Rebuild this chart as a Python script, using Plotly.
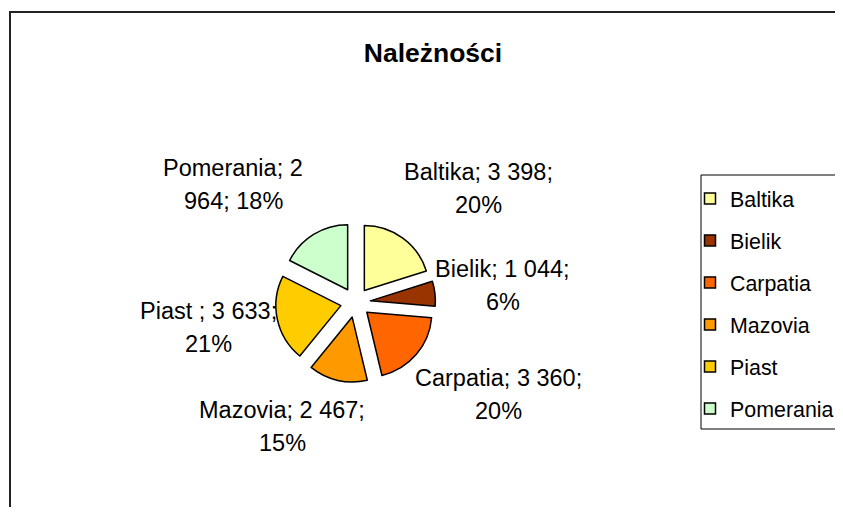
import textwrap
import plotly.graph_objects as go

# The page body has an 8px margin; the figure is sized to fit inside the window.
OFF = 8
W, H = 843 - 2 * OFF, 515 - 2 * OFF

categories = ["Baltika", "Bielik", "Carpatia", "Mazovia", "Piast", "Pomerania"]
label_names = ["Baltika", "Bielik", "Carpatia", "Mazovia", "Piast ", "Pomerania"]
values = [3398, 1044, 3360, 2467, 3633, 2964]
percents = [20, 6, 20, 15, 21, 18]
colors = ["#FFFF99", "#993300", "#FF6600", "#FF9900", "#FFCC00", "#CCFFCC"]
title_text = "Należności"

# label anchor positions in window pixels (centre of text block)
label_pos = [(479, 188), (503, 285), (498, 394), (282, 426), (208, 327), (233, 184)]

FONT = "Arial, Liberation Sans, sans-serif"


def px_x(x):
    return (x - OFF) / W


def px_y(y):
    return 1 - (y - OFF) / H


def fmt(v):
    return f"{v:,}".replace(",", " ")


# pie geometry (window pixels)
CX, CY, R, PULL = 355.5, 302.5, 65, 0.23
half = R * (1 + PULL)

fig = go.Figure()
fig.add_trace(go.Pie(
    labels=categories,
    values=values,
    sort=False,
    direction="clockwise",
    rotation=0,
    pull=[PULL] * len(values),
    marker=dict(colors=colors, line=dict(color="black", width=1.5)),
    textinfo="none",
    hoverinfo="label+value+percent",
    domain=dict(x=[px_x(CX - half), px_x(CX + half)],
                y=[px_y(CY + half), px_y(CY - half)]),
    showlegend=False,
))

# legend entries (one group per category so that spacing can be set)
for cat, col in zip(categories, colors):
    fig.add_trace(go.Scatter(
        x=[None], y=[None], mode="markers", name=cat, legendgroup=cat,
        marker=dict(symbol="square", size=11, color=col,
                    line=dict(color="black", width=1.5)),
        showlegend=True, hoverinfo="skip",
    ))

annotations = []
LINE_GAP = 33
for name, v, pct, (px, py) in zip(label_names, values, percents, label_pos):
    txt = f"{name}; {fmt(v)}; {pct}%"
    lines = textwrap.wrap(txt, width=16)
    n = len(lines)
    for i, line in enumerate(lines):
        ly = py + (i - (n - 1) / 2) * LINE_GAP
        annotations.append(dict(
            x=px_x(px), y=px_y(ly), xref="paper", yref="paper",
            text=line, showarrow=False,
            xanchor="center", yanchor="middle", align="center",
            font=dict(family=FONT, size=23.5, color="black"),
        ))

shapes = [
    # chart frame
    dict(type="rect", xref="paper", yref="paper",
         x0=px_x(10), x1=1.1, y0=-0.1, y1=px_y(12),
         line=dict(color="#222222", width=2), fillcolor="rgba(0,0,0,0)"),
    # legend box
    dict(type="rect", xref="paper", yref="paper",
         x0=px_x(701), x1=1.1, y0=px_y(429), y1=px_y(175),
         line=dict(color="black", width=1), fillcolor="white", layer="below"),
]

fig.update_layout(
    width=W, height=H,
    margin=dict(l=0, r=0, t=0, b=0, autoexpand=False),
    paper_bgcolor="white", plot_bgcolor="rgba(0,0,0,0)",
    xaxis=dict(visible=False), yaxis=dict(visible=False),
    title=dict(text=f"<b>{title_text}</b>", x=px_x(433), xanchor="center",
               y=px_y(53), yanchor="middle",
               font=dict(family=FONT, size=26.5, color="black")),
    legend=dict(x=px_x(690), xanchor="left", y=px_y(178), yanchor="top",
                font=dict(family=FONT, size=21.4, color="black"),
                tracegroupgap=11.2, traceorder="grouped",
                bgcolor="rgba(0,0,0,0)", borderwidth=0),
    annotations=annotations,
    shapes=shapes,
)

fig.write_html("out.html")
